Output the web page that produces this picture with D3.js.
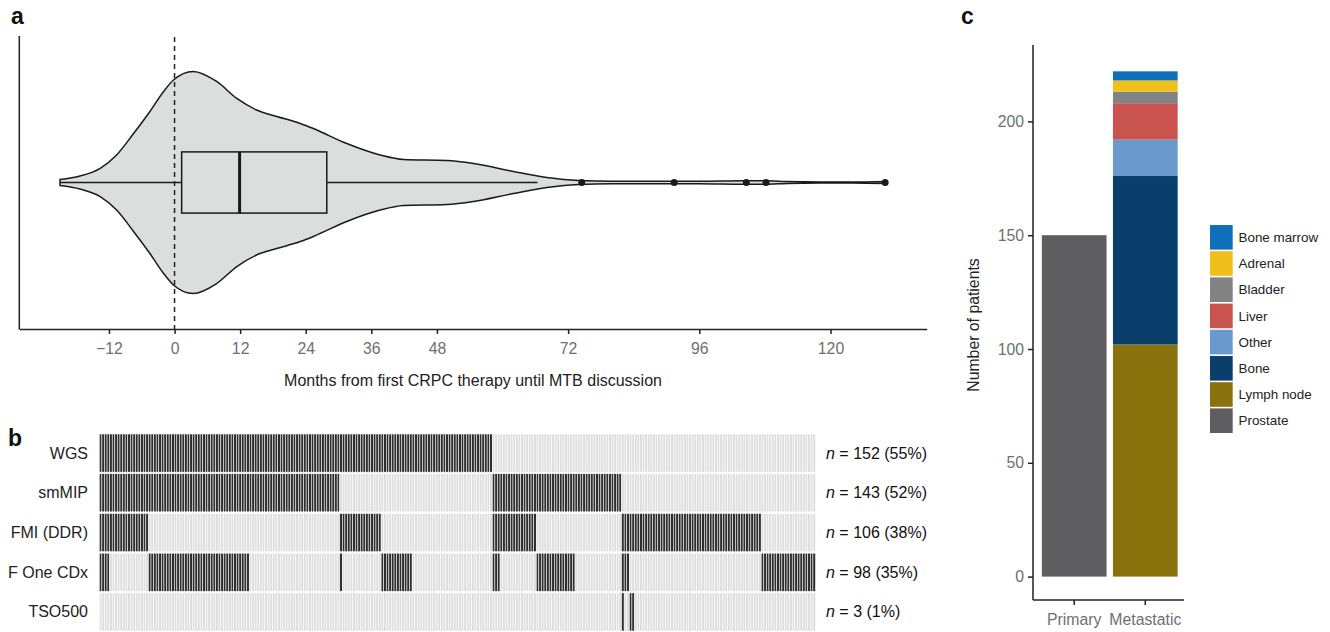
<!DOCTYPE html>
<html>
<head>
<meta charset="utf-8">
<script src="https://cdn.jsdelivr.net/npm/d3@7"></script>
<style>
body { margin: 0; background: #fff; }
text { font-family: Arial, "Liberation Sans", sans-serif; }
</style>
</head>
<body>
<script>
// ---------- panel a: months from first CRPC therapy ----------
// violin outline: month and relative half width
var densMonths = [-20.95, -17.3, -13.6, -10.6, -7.5, -4.5, -2.0, -0.2, 3.4, 7.7, 11.4, 15.0, 18.7, 23.0, 25.4, 31.5, 37.6, 41.9, 49.8, 54.7, 62.0, 68.1, 73.9, 80, 90, 96, 104, 108, 112, 118, 124, 130.2];
var densWidth  = [0.027, 0.059, 0.128, 0.248, 0.441, 0.64, 0.82, 0.923, 1.0, 0.91, 0.757, 0.653, 0.595, 0.532, 0.486, 0.351, 0.248, 0.207, 0.198, 0.171, 0.099, 0.045, 0.018, 0.012, 0.012, 0.011, 0.016, 0.016, 0.009, 0.005, 0.005, 0.01];
// lower whisker, Q1, median, Q3, upper whisker
var boxMonths = [-20.95, 1.3, 11.9, 27.85, 66.4];
var outlierMonths = [74.5, 91.4, 104.6, 108.2, 130.0];
var monthTicks = [-12, 0, 12, 24, 36, 48, 72, 96, 120];

// ---------- panel b: assays per patient (column runs, inclusive) ----------
var nPatients = 277;
var assays = ["WGS", "smMIP", "FMI (DDR)", "F One CDx", "TSO500"];
var wgsRuns   = [[0, 151]];
var smmipRuns = [[0, 92], [152, 201]];
var fmiRuns   = [[0, 18], [93, 108], [152, 168], [202, 255]];
var foneRuns  = [[0, 3], [19, 57], [93, 93], [109, 120], [152, 154], [169, 183], [202, 204], [256, 276]];
var tsoRuns   = [[202, 202], [205, 206]];

// ---------- panel c: biopsy sites ----------
var siteNames   = ["Bone marrow", "Adrenal", "Bladder", "Liver", "Other", "Bone", "Lymph node", "Prostate"];
var siteColours = ["#0f6fb8", "#efbf1b", "#808284", "#c9534f", "#6a9acd", "#0a3e6b", "#8a720c", "#5e5e60"];
var biopsyTypes = ["Primary", "Metastatic"];
var primarySites = ["Prostate"];
var primaryCounts = [150];
var metastaticSites = ["Lymph node", "Bone", "Other", "Liver", "Bladder", "Adrenal", "Bone marrow"];
var metastaticCounts = [102, 74, 16, 16, 5, 5, 4];
var countTicks = [0, 50, 100, 150, 200];

var svg = d3.select("body").append("svg")
    .attr("width", 1330)
    .attr("height", 632);

function minus(d) { return d < 0 ? "\u2212" + (-d) : "" + d; }
var ink = "#1a1a1a";

// panel letters
svg.append("text").attr("x", 11).attr("y", 24).text("a")
    .style("font-size", "23px").style("font-weight", "bold").attr("fill", "#111");
svg.append("text").attr("x", 8).attr("y", 446).text("b")
    .style("font-size", "23px").style("font-weight", "bold").attr("fill", "#111");
svg.append("text").attr("x", 961).attr("y", 24).text("c")
    .style("font-size", "23px").style("font-weight", "bold").attr("fill", "#111");

// ================= panel a =================
var x = d3.scaleLinear().domain([-28.4, 137.6]).range([19.3, 926.7]);
var cy = 182.5;
var halfW = d3.scaleLinear().domain([0, 1]).range([0, 111]);
var gA = svg.append("g");

var dens = densMonths.map(function(m, i) { return {m: m, w: densWidth[i]}; });
var violin = d3.area()
    .x(function(d) { return x(d.m); })
    .y0(function(d) { return cy - halfW(d.w); })
    .y1(function(d) { return cy + halfW(d.w); })
    .curve(d3.curveMonotoneX);

gA.append("path")
    .datum(dens)
    .attr("d", violin)
    .attr("fill", "#dcdedd")
    .attr("stroke", ink)
    .attr("stroke-width", 1.5);

// whiskers
gA.append("line")
    .attr("x1", x(boxMonths[0])).attr("x2", x(boxMonths[1]))
    .attr("y1", cy).attr("y2", cy)
    .attr("stroke", ink).attr("stroke-width", 1.5);
gA.append("line")
    .attr("x1", x(boxMonths[3])).attr("x2", x(boxMonths[4]))
    .attr("y1", cy).attr("y2", cy)
    .attr("stroke", ink).attr("stroke-width", 1.5);

// box
gA.append("rect")
    .attr("x", x(boxMonths[1])).attr("y", cy - 30.6)
    .attr("width", x(boxMonths[3]) - x(boxMonths[1])).attr("height", 61.2)
    .attr("fill", "#dcdedd").attr("stroke", ink).attr("stroke-width", 1.5);
gA.append("line")
    .attr("x1", x(boxMonths[2])).attr("x2", x(boxMonths[2]))
    .attr("y1", cy - 30.6).attr("y2", cy + 30.6)
    .attr("stroke", ink).attr("stroke-width", 3);

// outliers
gA.selectAll(".outlier")
    .data(outlierMonths)
    .enter()
    .append("circle")
    .attr("class", "outlier")
    .attr("cx", function(d) { return x(d); })
    .attr("cy", cy)
    .attr("r", 3.5)
    .attr("fill", ink);

// dashed line at 0
gA.append("line")
    .attr("x1", x(0)).attr("x2", x(0))
    .attr("y1", 37).attr("y2", 329)
    .attr("stroke", "#222").attr("stroke-width", 1.5)
    .attr("stroke-dasharray", "5,4");

// axes
gA.append("line")
    .attr("x1", 19.3).attr("x2", 19.3).attr("y1", 36).attr("y2", 329.5)
    .attr("stroke", "#222").attr("stroke-width", 1.5);
var xAxis = gA.append("g")
    .attr("transform", "translate(0,329)")
    .call(d3.axisBottom(x).tickValues(monthTicks).tickSize(5).tickSizeOuter(0).tickFormat(minus));
xAxis.select(".domain").attr("stroke", "#222").attr("stroke-width", 1.5);
xAxis.selectAll(".tick line").attr("stroke", "#222").attr("stroke-width", 1.5);
xAxis.selectAll(".tick text")
    .attr("y", 14).attr("fill", "#6f6f6f")
    .style("font-size", "15.8px").style("font-family", "Arial, 'Liberation Sans', sans-serif");

gA.append("text")
    .attr("x", (19.3 + 926.7) / 2).attr("y", 386)
    .attr("text-anchor", "middle")
    .attr("fill", "#222")
    .style("font-size", "16px")
    .text("Months from first CRPC therapy until MTB discussion");

// ================= panel b =================
var runsByAssay = [wgsRuns, smmipRuns, fmiRuns, foneRuns, tsoRuns];
var tiles = [];
var counts = [];
assays.forEach(function(a, i) {
    var has = new Array(nPatients).fill(false);
    runsByAssay[i].forEach(function(r) {
        for (var p = r[0]; p <= r[1]; p++) { has[p] = true; }
    });
    counts.push(has.filter(Boolean).length);
    has.forEach(function(h, p) { tiles.push({assay: a, patient: p, done: h}); });
});

var xb = d3.scaleBand().domain(d3.range(nPatients)).range([99.3, 815.5]);
var yb = d3.scaleBand().domain(assays).range([434, 631]).paddingInner(0.04);
var gB = svg.append("g");

gB.selectAll(".tile")
    .data(tiles)
    .enter()
    .append("rect")
    .attr("class", "tile")
    .attr("x", function(d) { return xb(d.patient); })
    .attr("y", function(d) { return yb(d.assay); })
    .attr("width", xb.bandwidth())
    .attr("height", yb.bandwidth())
    .attr("fill", function(d) { return d.done ? "#2e2e2e" : "#dedede"; })
    .attr("stroke", "#fff")
    .attr("stroke-width", 0.55);

gB.selectAll(".rowlab")
    .data(assays)
    .enter()
    .append("text")
    .attr("class", "rowlab")
    .attr("x", 88)
    .attr("y", function(d) { return yb(d) + yb.bandwidth() / 2 + 5.5; })
    .attr("text-anchor", "end")
    .attr("fill", "#222")
    .style("font-size", "16px")
    .text(function(d) { return d; });

var nLab = gB.selectAll(".nlab")
    .data(assays)
    .enter()
    .append("text")
    .attr("class", "nlab")
    .attr("x", 826)
    .attr("y", function(d) { return yb(d) + yb.bandwidth() / 2 + 5.5; })
    .attr("fill", "#111")
    .style("font-size", "16px");
nLab.append("tspan").style("font-style", "italic").text("n");
nLab.append("tspan").text(function(d, i) {
    return " = " + counts[i] + " (" + Math.round(counts[i] / nPatients * 100) + "%)";
});

// ================= panel c =================
var colour = d3.scaleOrdinal().domain(siteNames).range(siteColours);
var yc = d3.scaleLinear().domain([0, 200]).range([576.6, 121.4]);
var xc = d3.scaleBand().domain(biopsyTypes).range([1039, 1180.5]).paddingInner(0.09).paddingOuter(0.04);
var gC = svg.append("g");

function stackSegments(type, sites, values) {
    var cum = d3.cumsum(values);
    return sites.map(function(s, i) {
        return {type: type, site: s, y0: cum[i] - values[i], y1: cum[i]};
    });
}
var segments = stackSegments("Primary", primarySites, primaryCounts)
    .concat(stackSegments("Metastatic", metastaticSites, metastaticCounts));

gC.selectAll(".seg")
    .data(segments)
    .enter()
    .append("rect")
    .attr("class", "seg")
    .attr("x", function(d) { return xc(d.type); })
    .attr("width", xc.bandwidth())
    .attr("y", function(d) { return yc(d.y1); })
    .attr("height", function(d) { return yc(d.y0) - yc(d.y1); })
    .attr("fill", function(d) { return colour(d.site); });

var yAxisC = gC.append("g")
    .attr("transform", "translate(1033,0)")
    .call(d3.axisLeft(yc).tickValues(countTicks).tickSize(5).tickSizeOuter(0));
yAxisC.select(".domain").attr("d", "M0," + yc(-10.3) + "V" + yc(233.6))
    .attr("stroke", "#222").attr("stroke-width", 1.5);
yAxisC.selectAll(".tick line").attr("stroke", "#222").attr("stroke-width", 1.5);
yAxisC.selectAll(".tick text")
    .attr("x", -9).attr("fill", "#6f6f6f")
    .style("font-size", "15.8px").style("font-family", "Arial, 'Liberation Sans', sans-serif");

var xAxisC = gC.append("g")
    .attr("transform", "translate(0," + yc(-10.3) + ")")
    .call(d3.axisBottom(xc).tickSize(5).tickSizeOuter(0));
xAxisC.select(".domain").attr("d", "M1033,0H1184")
    .attr("stroke", "#222").attr("stroke-width", 1.5);
xAxisC.selectAll(".tick line").attr("stroke", "#222").attr("stroke-width", 1.5);
xAxisC.selectAll(".tick text")
    .attr("y", 14).attr("fill", "#6f6f6f")
    .style("font-size", "15.8px").style("font-family", "Arial, 'Liberation Sans', sans-serif");

gC.append("text")
    .attr("transform", "translate(979,325) rotate(-90)")
    .attr("text-anchor", "middle")
    .attr("fill", "#222")
    .style("font-size", "15.8px")
    .text("Number of patients");

// legend
var legend = gC.selectAll(".key")
    .data(siteNames)
    .enter()
    .append("g")
    .attr("class", "key")
    .attr("transform", function(d, i) { return "translate(1210," + (225 + i * 26.2) + ")"; });
legend.append("rect")
    .attr("width", 22.7)
    .attr("height", 24.6)
    .attr("fill", function(d) { return colour(d); });
legend.append("text")
    .attr("x", 28.5)
    .attr("y", 17)
    .attr("fill", "#222")
    .style("font-size", "13.4px")
    .text(function(d) { return d; });
</script>
</body>
</html>
